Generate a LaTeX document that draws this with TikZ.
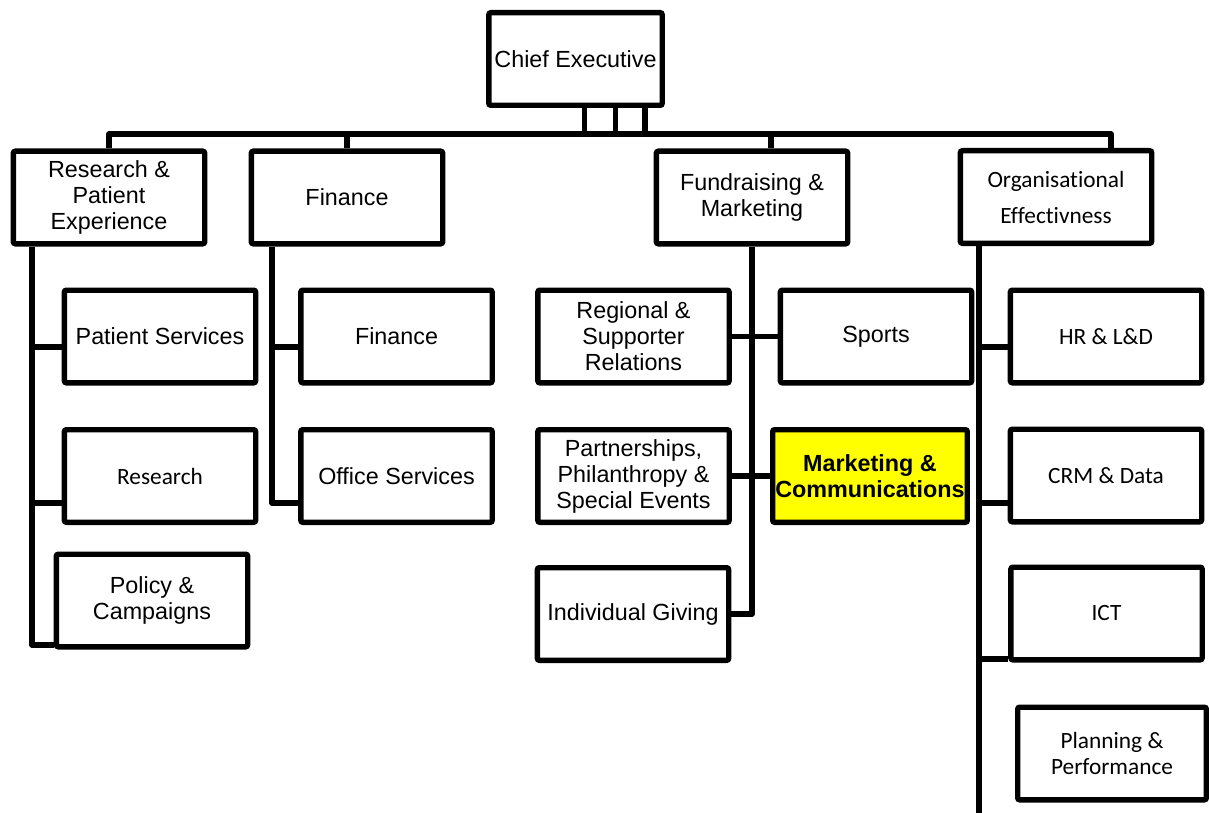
\documentclass[tikz,border=0pt]{standalone}
\usepackage{fontspec}
\setmainfont{Liberation Sans}
\newfontfamily\calib[Ligatures=NoCommon]{Carlito}
\usetikzlibrary{calc}

\definecolor{markyellow}{RGB}{255,255,0}

\tikzset{
  unit/.style={draw, line width=4pt, rounded corners=1.5pt,
    minimum width=143.5pt, minimum height=69.5pt, inner sep=2pt,
    align=center, font=\fontsize{17.5}{19.5}\selectfont},
  calunit/.style={unit, font=\calib\fontsize{17.5}{20}\selectfont},
  link/.style={line width=4pt, line join=round},
}

\begin{document}
\begin{tikzpicture}[x=0.75pt,y=-0.75pt]
            \useasboundingbox (0,0) rectangle (1209,813);
            % Head
            \node[unit, minimum width=130pt] (ceo) at (575.5,59) {Chief Executive};
            % Directorates
            \node[unit] (rpe) at (109,197.5) {Research \&\\Patient\\Experience};
            \node[unit] (fin) at (347,197.5) {Finance};
            \node[unit] (fm) at (752,197.5) {Fundraising \&\\Marketing};
            \node[calunit, font=\calib\fontsize{17.5}{27}\selectfont] (oe) at (1056,197) {Organisational\\Effectivness};
            % Teams
            \node[unit] (ps) at (160,336.5) {Patient Services};
            \node[calunit] (res) at (160,476) {Research};
            \node[unit] (pol) at (152,600.5) {Policy \&\\Campaigns};
            \node[unit] (finc) at (396.5,336.5) {Finance};
            \node[unit] (off) at (396.5,476) {Office Services};
            \node[unit] (rsr) at (633.5,336.5) {Regional \&\\Supporter\\Relations};
            \node[unit] (spo) at (876,336.5) {Sports};
            \node[unit] (pps) at (633.5,476) {Partnerships,\\Philanthropy \&\\Special Events};
            \node[unit, fill=markyellow, font=\bfseries\fontsize{17.5}{19.5}\selectfont] (mc) at (870,476) {Marketing \&\\Communications};
            \node[unit] (ig) at (633,614) {Individual Giving};
            \node[calunit] (hr) at (1106,336.5) {HR \& L\&D};
            \node[calunit] (crm) at (1106,475.5) {CRM \& Data};
            \node[calunit] (ict) at (1106.5,613.5) {ICT};
            \node[calunit, minimum width=141.5pt] (pp) at (1112,753.5) {Planning \&\\Performance};
            % Bus
            \coordinate (bus) at ($(ceo.south)+(0,26)$);
            \coordinate (fmdrop) at ($(fm.north)+(19,0)$);
            \coordinate (oedrop) at ($(oe.north)+(55,0)$);
            \foreach \dx in {9,40,69.5}
                \draw[link] ($(ceo.south)+(\dx,0)$) -- ++(0,26);
            \draw[link] (rpe.north) |- (bus) -| (oedrop);
            \draw[link] (fin.north) -- (fin.north |- bus);
            \draw[link] (fmdrop) -- (fmdrop |- bus);
            % Research & Patient Experience
            \coordinate (rpespine) at ($(rpe.south)+(-77,0)$);
            \coordinate (psb) at ($(ps.west)+(0,10.5)$);
            \coordinate (resb) at ($(res.west)+(0,27)$);
            \coordinate (polb) at ($(pol.west)+(0,44.5)$);
            \draw[link] (rpespine) |- (polb);
            \draw[link] (psb) -- (psb -| rpespine);
            \draw[link] (resb) -- (resb -| rpespine);
            % Finance
            \coordinate (finspine) at ($(fin.south)+(-75,0)$);
            \coordinate (fincb) at ($(finc.west)+(0,10.5)$);
            \coordinate (offb) at ($(off.west)+(0,27)$);
            \draw[link] (finspine) |- (offb);
            \draw[link] (fincb) -- (fincb -| finspine);
            % Fundraising & Marketing
            \draw[link] (fm.south) |- (ig.east);
            \draw[link] (rsr.east) -- (spo.west);
            \draw[link] (pps.east) -- (mc.west);
            % Organisational Effectivness
            \coordinate (oespine) at ($(oe.south)+(-77,0)$);
            \coordinate (oeend) at (979,815);
            \coordinate (hrb) at ($(hr.west)+(0,10.5)$);
            \coordinate (crmb) at ($(crm.west)+(0,27.5)$);
            \coordinate (ictb) at ($(ict.west)+(0,45.5)$);
            \draw[link] (oespine) -- (oeend);
            \draw[link] (hrb) -- (hrb -| oespine);
            \draw[link] (crmb) -- (crmb -| oespine);
            \draw[link] (ictb) -- (ictb -| oespine);
        \end{tikzpicture}
\end{document}
